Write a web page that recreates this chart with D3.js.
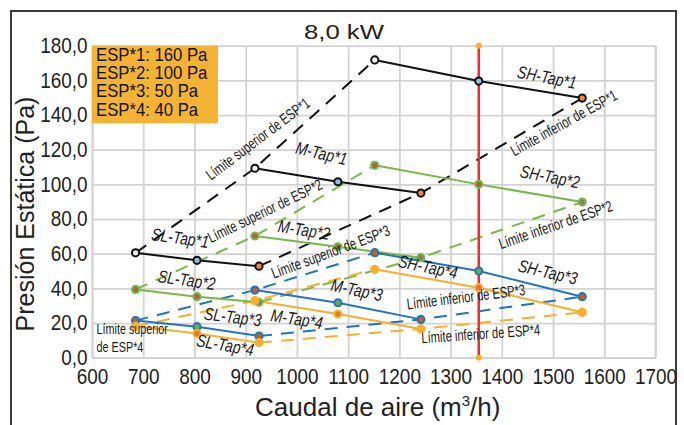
<!DOCTYPE html>
<html>
<head>
<meta charset="utf-8">
<script src="https://cdn.jsdelivr.net/npm/d3@7"></script>
<style>
  body { margin: 0; background: #fff; }
  svg { display: block; }
  .narrow { font-family: "Liberation Sans Narrow", "Arial Narrow", "Liberation Sans", Arial, sans-serif; }
  .grid line, .grid path { stroke: #d3d3d3; stroke-width: 1.8; }
</style>
</head>
<body>
<script>
// 풍량 (m3/h) - 탭별 공통
var slFlow = [685, 805, 926];
var mFlow = [918, 1080, 1242];
var shFlow = [1152, 1355, 1557];

// 정압 (Pa) - ESP별, 탭별
var esp1SL = [60.5, 56.2, 52.8], esp1M = [109.3, 101.5, 95.0], esp1SH = [171.8, 159.6, 149.8];
var esp2SL = [39.4, 35.2, 32.0], esp2M = [70.2, 64.0, 57.7], esp2SH = [111.0, 100.0, 89.8];
var esp3SL = [21.4, 17.9, 12.5], esp3M = [39.0, 31.7, 22.1], esp3SH = [60.6, 50.0, 35.2];
var esp4SL = [18.1, 14.0, 8.7], esp4M = [32.9, 25.2, 16.6], esp4SH = [51.0, 40.4, 26.2];

var espNames = ["ESP*1", "ESP*2", "ESP*3", "ESP*4"];
var legendLines = ["ESP*1: 160 Pa", "ESP*2: 100 Pa", "ESP*3: 50 Pa", "ESP*4: 40 Pa"];
var ratedFlow = 1355;
var xTicks = d3.range(600, 1701, 100);
var yTicks = d3.range(0, 181, 20);

// 라벨 (텍스트, 풍량, 정압, 회전각)
var labelText = ["Límite superior de ESP*1", "M-Tap*1", "SH-Tap*1", "Límite inferior de ESP*1",
  "SH-Tap*2", "Límite inferior de ESP*2", "Límite superior de ESP*2", "M-Tap*2", "SL-Tap*1",
  "SL-Tap*2", "Límite superior de ESP*3", "M-Tap*3", "SH-Tap*4", "SH-Tap*3",
  "Límite inferior de ESP*3", "Límite inferior de ESP*4", "SL-Tap*3", "M-Tap*4", "SL-Tap*4"];
var labelFlow = [924, 1048, 1488, 1521, 1494, 1505, 938, 1014, 772, 785, 1066, 1117, 1256, 1490, 1330, 1359, 875, 1000, 860];
var labelPa = [126.2, 117.9, 161.8, 135.4, 104.4, 76.6, 84.6, 73.7, 69.1, 44.8, 61.0, 39.0, 52.3, 49.4, 35.0, 13.7, 23.5, 22.3, 7.3];
var labelAngle = [-37, 13, 11, -29, 11, -19, -26, 9, 8, 8, -20.5, 12, 12, 13, -7, -4, 7, 9, 10];

var colors = ["#111111", "#77b84a", "#2274c0", "#f7b02e"];
var markerFill = [["#eeeeee", "#8fbfe0", "#f08a3c"], ["#a8643a", "#a8643a", "#8a7d6a"],
  ["#c0602a", "#6aa84f", "#c0602a"], ["#f7b02e", "#e07a2a", "#f7b02e"]];

// 좁은 글꼴이 없어서 가로로 눌러줌
var squeeze = function (k) { return " scale(" + k + ",1)"; };

// 여백
var LEFT = 92, RIGHT = 684 - 655.5, TOP = 45.7, BOTTOM = 425 - 357.7;
var width = 684 - LEFT - RIGHT;
var height = 425 - TOP - BOTTOM;

var svg = d3.select("body").append("svg").attr("width", 684).attr("height", 425);

// 바깥 테두리
svg.append("rect").attr("x", 11).attr("y", 11).attr("width", 665).attr("height", 430)
  .attr("fill", "none").attr("stroke", "#3a3a3a").attr("stroke-width", 2);

var xScale = d3.scaleLinear().domain([600, 1700]).range([0, width]);
var yScale = d3.scaleLinear().domain([0, 180]).range([height, 0]);

var g = svg.append("g").attr("transform", "translate(" + LEFT + "," + TOP + ")");

var fmt = function (d) { return d3.format(".1f")(d).replace(".", ","); };

// 축 + 격자
g.append("g").attr("class", "grid narrow")
  .call(d3.axisLeft(yScale).tickValues(yTicks).tickSizeInner(-width).tickSizeOuter(0).tickPadding(5).tickFormat(fmt));
g.append("g").attr("class", "grid narrow").attr("transform", "translate(0," + height + ")")
  .call(d3.axisBottom(xScale).tickValues(xTicks).tickSizeInner(-height).tickSizeOuter(0).tickPadding(11).tickFormat(d3.format("d")));
g.append("line").attr("x1", width).attr("x2", width).attr("y1", 0).attr("y2", height)
  .attr("stroke", "#d3d3d3").attr("stroke-width", 1.8);
g.selectAll(".grid text").attr("fill", "#222").style("font-size", "21.5px")
  .attr("transform", squeeze(0.88));
g.selectAll(".grid .domain").attr("stroke", "#c8c8c8");

var line = d3.line().x(function (d) { return xScale(d[0]); }).y(function (d) { return yScale(d[1]); });

var espData = [[esp1SL, esp1M, esp1SH], [esp2SL, esp2M, esp2SH], [esp3SL, esp3M, esp3SH], [esp4SL, esp4M, esp4SH]];
var flows = [slFlow, mFlow, shFlow];

// 상한/하한 점선
espData.forEach(function (taps, s) {
  var upper = taps.map(function (p, t) { return [flows[t][0], p[0]]; });
  var lower = taps.map(function (p, t) { return [flows[t][2], p[2]]; });
  [upper, lower].forEach(function (pts) {
    g.append("path").attr("d", line(pts)).attr("fill", "none").attr("stroke", colors[s])
      .attr("stroke-width", 2).attr("stroke-dasharray", "13,9");
  });
});

// 탭 실선
espData.forEach(function (taps, s) {
  taps.forEach(function (p, t) {
    var pts = p.map(function (v, i) { return [flows[t][i], v]; });
    g.append("path").attr("d", line(pts)).attr("fill", "none").attr("stroke", colors[s]).attr("stroke-width", 2);
  });
});

// 정격 풍량 선
g.append("line").attr("x1", xScale(ratedFlow)).attr("x2", xScale(ratedFlow))
  .attr("y1", yScale(180)).attr("y2", yScale(0)).attr("stroke", "#f52a2a").attr("stroke-width", 2.5);
g.selectAll(".rated").data([0, 180]).enter().append("circle")
  .attr("cx", xScale(ratedFlow)).attr("cy", function (d) { return yScale(d); })
  .attr("r", 3).attr("fill", "#f7b02e");

// 마커
espData.forEach(function (taps, s) {
  taps.forEach(function (p, t) {
    g.selectAll(null).data(p).enter().append("circle")
      .attr("cx", function (d, i) { return xScale(flows[t][i]); })
      .attr("cy", function (d) { return yScale(d); })
      .attr("r", 3.6).attr("fill", function (d, i) { return markerFill[s][i]; })
      .attr("stroke", colors[s]).attr("stroke-width", 2);
  });
});

// 라벨
labelText.forEach(function (txt, i) {
  var isTap = txt.indexOf("Tap") >= 0;
  g.append("text").attr("class", "narrow")
    .attr("transform", "translate(" + xScale(labelFlow[i]) + "," + yScale(labelPa[i]) + ") rotate(" + labelAngle[i] + ")" + squeeze(isTap ? 0.8 : 0.72))
    .attr("text-anchor", "middle").attr("dominant-baseline", "central")
    .style("font-size", isTap ? "17.5px" : "15.5px").style("font-style", isTap ? "italic" : "normal")
    .attr("fill", "#1a1a1a").text(txt);
});
g.append("text").attr("class", "narrow")
  .attr("transform", "translate(" + xScale(609) + "," + yScale(16.5) + ")" + squeeze(0.72))
  .attr("dominant-baseline", "central").style("font-size", "15px").attr("fill", "#1a1a1a").text("Límite superior");
g.append("text").attr("class", "narrow")
  .attr("transform", "translate(" + xScale(609) + "," + yScale(6.2) + ")" + squeeze(0.72))
  .attr("dominant-baseline", "central").style("font-size", "15px").attr("fill", "#1a1a1a").text("de ESP*4");

// 범례 박스
g.append("rect").attr("x", 0).attr("y", 0).attr("width", 126).attr("height", 77.6).attr("fill", "#f5b335");
g.selectAll(".leg").data(legendLines).enter().append("text").attr("class", "narrow")
  .attr("transform", function (d, i) { return "translate(4," + (15 + i * 18.3) + ")" + squeeze(0.88); })
  .style("font-size", "19px").attr("fill", "#111").text(function (d) { return d; });

// 제목과 축 제목
svg.append("text").attr("x", 344).attr("y", 39).attr("text-anchor", "middle")
  .attr("textLength", 80).attr("lengthAdjust", "spacingAndGlyphs")
  .style("font-family", "Liberation Sans, Arial, sans-serif").style("font-size", "21px").attr("fill", "#222").text("8,0 kW");
var xt = svg.append("text").attr("x", LEFT + width / 2 + 4).attr("y", 416).attr("text-anchor", "middle")
  .style("font-family", "Liberation Sans, Arial, sans-serif").style("font-size", "26px").attr("fill", "#222");
xt.append("tspan").text("Caudal de aire (m");
xt.append("tspan").attr("dy", -10).style("font-size", "15px").text("3");
xt.append("tspan").attr("dy", 10).text("/h)");
svg.append("text").attr("transform", "translate(34,214) rotate(-90)").attr("text-anchor", "middle")
  .style("font-family", "Liberation Sans, Arial, sans-serif").style("font-size", "25px").attr("fill", "#222")
  .text("Presión Estática (Pa)");
</script>
</body>
</html>
